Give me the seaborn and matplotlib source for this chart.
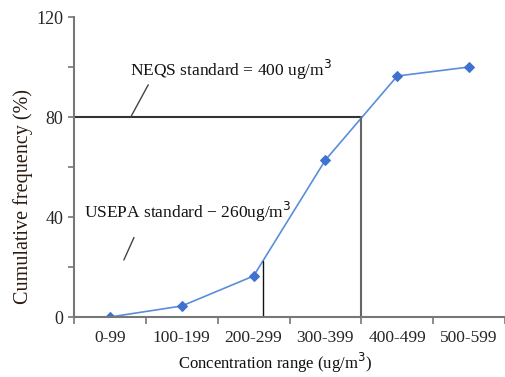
import matplotlib
matplotlib.use("Agg")
import matplotlib.pyplot as plt
import seaborn as sns
import pandas as pd
import numpy as np

categories = ["0-99", "100-199", "200-299", "300-399", "400-499", "500-599"]
cum_freq = [0.0, 4.4, 16.4, 62.8, 96.4, 100.0]
neqs_value = 80
y_major = [0, 40, 80, 120]
y_minor = [20, 60, 100]

sns.set_theme(style="white")
plt.rcParams['font.family'] = ['Liberation Serif', 'DejaVu Serif']

df = pd.DataFrame({"pos": np.arange(len(categories)), "freq": cum_freq})

fig = plt.figure(figsize=(5.05, 3.77), dpi=100)
ax = fig.add_axes([74/505, 60/377, (505-74)/505, 300/377])

sns.lineplot(data=df, x="pos", y="freq", ax=ax, color="#5a8ddb", linewidth=1.2,
             marker="D", markersize=5.5, markeredgecolor="#3f72cf",
             markerfacecolor="#3f72cf")

ax.set_xlim(-0.5, 5.46)
ax.set_ylim(0, 120)

# standard lines (NEQS 400 ug/m3 sits on the 300-399 / 400-499 boundary)
neqs_x = 3.5
ax.plot([-0.5, neqs_x], [neqs_value, neqs_value], color="#333333", lw=1.5)
ax.plot([neqs_x, neqs_x], [0, neqs_value], color="#666666", lw=1.5)
usepa_x = 2.13
usepa_y = cum_freq[2] + (usepa_x - 2) * (cum_freq[3] - cum_freq[2])
ax.plot([usepa_x, usepa_x], [0, usepa_y], color="#111111", lw=1.0)

ax.annotate("NEQS standard = 400 ug/m$^{3}$", xy=(0.29, 80), xytext=(0.277, 99),
            fontsize=12.5, va="center", ha="left", color="#111111",
            arrowprops=dict(arrowstyle="-", color="#444444", lw=1.0,
                            shrinkA=0, shrinkB=0, relpos=(0.1, 0)))
ax.annotate("USEPA standard \u2212 260ug/m$^{3}$", xy=(0.194, 22.8), xytext=(-0.36, 42),
            fontsize=12.5, va="center", ha="left", color="#111111",
            arrowprops=dict(arrowstyle="-", color="#444444", lw=1.0,
                            shrinkA=8, shrinkB=0, relpos=(0.27, 0)))

# ticks
ax.set_xticks(np.arange(-0.5, 5.6, 1.0))
ax.set_xticklabels([])
ax.set_xticks(np.arange(len(categories)), minor=True)
ax.set_xticklabels(categories, minor=True, fontsize=12.5)
ax.tick_params(axis="x", which="major", direction="out", length=5, width=1.2,
               color="#777777", bottom=True)
ax.tick_params(axis="x", which="minor", length=0, pad=9.5, bottom=True)

ax.set_yticks(y_major)
ax.set_yticklabels([str(v) for v in y_major], fontsize=13)
ax.set_yticks(y_minor, minor=True)
ax.tick_params(axis="y", which="both", direction="out", length=4, width=1.2,
               color="#777777", left=True)

for s in ["top", "right"]:
    ax.spines[s].set_visible(False)
for s in ["left", "bottom"]:
    ax.spines[s].set_color("#777777")
    ax.spines[s].set_linewidth(1.5)

ax.set_xlabel("Concentration range (ug/m$^{3}$)", fontsize=12, color="#111111")
ax.xaxis.set_label_coords(0.466, -0.113)
ax.set_ylabel("Cumulative frequency (%)", fontsize=14.5, color="#2a1a10")
ax.yaxis.set_label_coords(-0.118, 0.4)
ax.yaxis.label.set_verticalalignment("center")
ax.grid(False)

fig.savefig("out.png", dpi=100)
